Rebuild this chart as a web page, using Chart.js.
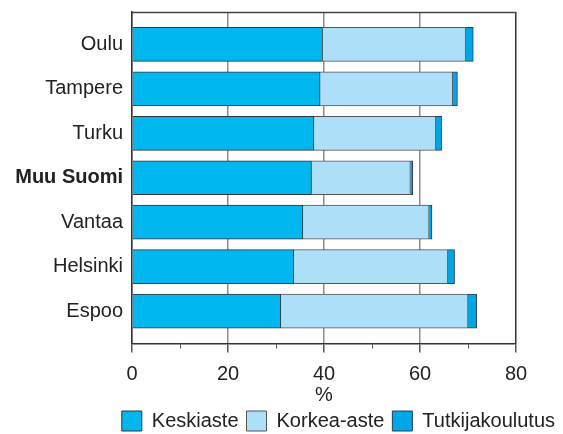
<!DOCTYPE html>
<html>
<head>
<meta charset="utf-8">
<script src="https://cdn.jsdelivr.net/npm/chart.js@4"></script>
<style>
  html, body { margin: 0; padding: 0; background: #fff; }
  #wrap { width: 563px; height: 434px; }
</style>
</head>
<body>
<div id="wrap"><canvas id="chart"></canvas></div>
<script>
const categories = ["Oulu", "Tampere", "Turku", "Muu Suomi", "Vantaa", "Helsinki", "Espoo"];
const highlighted = "Muu Suomi";
const keskiaste = [39.7, 39.2, 37.9, 37.4, 35.6, 33.7, 31.0];
const korkeaAste = [29.8, 27.6, 25.4, 20.6, 26.3, 32.1, 39.0];
const tutkija = [1.6, 1.0, 1.2, 0.5, 0.6, 1.4, 1.8];
const seriesNames = ["Keskiaste", "Korkea-aste", "Tutkijakoulutus"];
const minorTicks = [10, 30, 50, 70];

const FONT = "'Liberation Sans', Arial, sans-serif";
Chart.defaults.font.family = FONT;
Chart.defaults.color = "#222";

function points(values) {
  return values.map((v, i) => ({ x: v, y: i }));
}

// top border + minor ticks under the x axis
const framePlugin = {
  id: "frame",
  afterDraw(chart) {
    const { ctx, chartArea } = chart;
    const x = chart.scales.x;
    ctx.save();
    ctx.strokeStyle = "#444";
    ctx.lineWidth = 1.5;
    ctx.beginPath();
    ctx.moveTo(chartArea.left, chartArea.top + 0.5);
    ctx.lineTo(chartArea.right, chartArea.top + 0.5);
    ctx.stroke();
    ctx.lineWidth = 1;
    ctx.strokeStyle = "#555";
    minorTicks.forEach(v => {
      const px = Math.round(x.getPixelForValue(v)) + 0.5;
      ctx.beginPath();
      ctx.moveTo(px, chartArea.bottom);
      ctx.lineTo(px, chartArea.bottom + 5);
      ctx.stroke();
    });
    ctx.restore();
  }
};

new Chart(document.getElementById("chart"), {
  type: "bar",
  data: {
    datasets: [
      { label: seriesNames[0], data: points(keskiaste), backgroundColor: "#00b8ef", borderColor: "#333", borderWidth: 1 },
      { label: seriesNames[1], data: points(korkeaAste), backgroundColor: "#addff9", borderColor: "#555", borderWidth: 1 },
      { label: seriesNames[2], data: points(tutkija), backgroundColor: "#00a7e5", borderColor: "#2a3a5a", borderWidth: 1 }
    ]
  },
  options: {
    indexAxis: "y",
    responsive: true,
    maintainAspectRatio: false,
    animation: false,
    layout: { padding: { top: 9, left: 0, right: 0, bottom: -7 } },
    barThickness: 34,
    scales: {
      x: {
        type: "linear",
        stacked: true,
        min: 0,
        max: 80,
        afterFit: s => { s.height = 59.5; },
        ticks: { stepSize: 20, padding: 10, font: { size: 20 }, color: "#222" },
        grid: {
          color: c => c.tick && c.tick.value === 80 ? "#333" : "#8c8c8c",
          lineWidth: 1.5,
          tickLength: 9,
          tickColor: "#555"
        },
        border: { color: "#333", width: 1.5 },
        title: { display: true, text: "%", font: { size: 20 }, color: "#222", padding: { top: 0, bottom: -4 } }
      },
      y: {
        type: "linear",
        stacked: true,
        reverse: true,
        offset: false,
        min: -0.73,
        max: 6.73,
        afterFit: s => { s.width = 132; },
        ticks: {
          stepSize: 1,
          includeBounds: false,
          padding: 0,
          color: "#222",
          callback: v => categories[v] || "",
          font: c => ({ size: 20, weight: c.tick && categories[c.tick.value] === highlighted ? "bold" : "normal" })
        },
        grid: { display: false, drawTicks: true, tickLength: 9 },
        border: { color: "#333", width: 1.5 }
      },
      y2: {
        type: "linear",
        position: "right",
        afterFit: s => { s.width = 47; },
        ticks: { display: false },
        grid: { display: false },
        border: { display: false }
      }
    },
    plugins: {
      legend: {
        position: "bottom",
        align: "end",
        labels: { boxWidth: 20, boxHeight: 20, padding: 8, font: { size: 20 }, color: "#222" }
      },
      tooltip: { enabled: false }
    }
  },
  plugins: [framePlugin]
});
</script>
</body>
</html>
